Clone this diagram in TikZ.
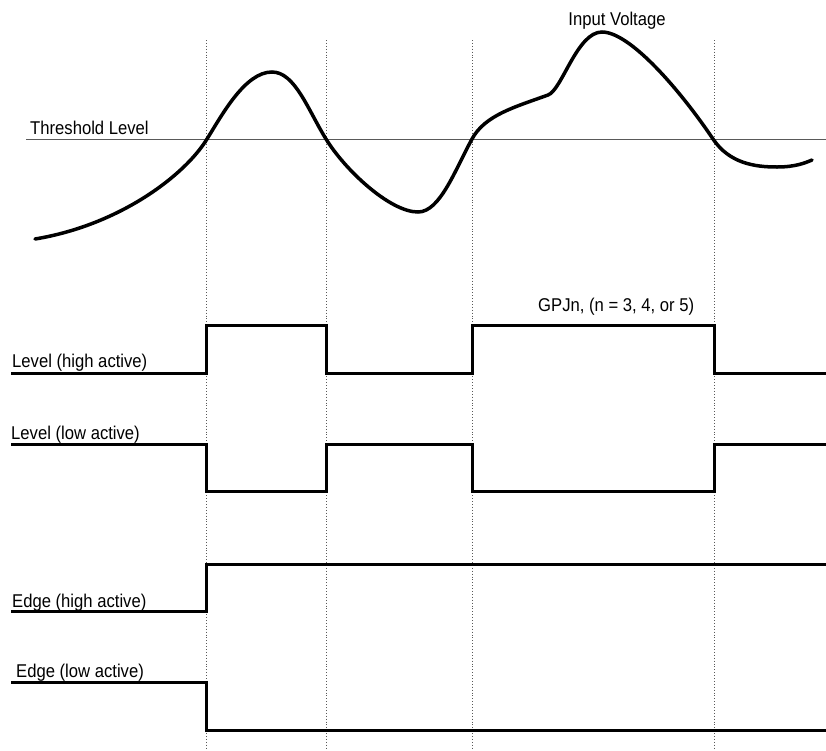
\documentclass[tikz,border=0pt]{standalone}
\usepackage{fontspec}
\setmainfont{Liberation Sans}[FakeStretch=0.9]
\begin{document}
\begin{tikzpicture}[x=1pt,y=-1pt,
  lbl/.style={anchor=base west,inner sep=0pt,font=\fontsize{18.5}{20}\selectfont},
  sig/.style={line width=3pt,line join=miter},
  guide/.style={gray!70!black,dotted,line width=0.9pt},
  thr/.style={black!65,line width=1.6pt}]
\useasboundingbox (0,0) rectangle (826,750);
% guides
\foreach \gx/\gn in {206/ga,326/gb,472/gc,714/gd}{
  \coordinate (\gn t) at (\gx,40);
  \coordinate (\gn b) at (\gx,750);
  \draw[guide] (\gn t) -- (\gn b);
}
% threshold
\coordinate (th1) at (26,139.5);
\coordinate (th2) at (826,139.5);
\draw[thr] (th1) -- (th2);
% input voltage
\draw[line width=3.5pt,line cap=round]
 (35,239) .. controls (120,225) and (185,175) .. (207,139)
 .. controls (222,115) and (245,72) .. (272,72)
 .. controls (295,72) and (308,110) .. (326,139)
 .. controls (345,170) and (390,212) .. (418,212)
 .. controls (440,212) and (455,170) .. (472,139)
 .. controls (485,115) and (515,107) .. (548,95)
 .. controls (562,90) and (577,32) .. (602,32)
 .. controls (630,32) and (680,90) .. (713,139)
 .. controls (729.5,163.5) and (755,167) .. (777,167)
 .. controls (795,167) and (805,163) .. (812,160);
% labels
\node[lbl] (tl) at (30,134) {Threshold Level};
\node[lbl,anchor=base] (iv) at (617,25) {Input Voltage};
\node[lbl] (gp) at (538,311) {GPJn, (n = 3, 4, or 5)};
\node[lbl] (l1) at (12,367) {Level (high active)};
\node[lbl] (l2) at (11,439) {Level (low active)};
\node[lbl] (l3) at (12,607) {Edge (high active)};
\node[lbl] (l4) at (16,677) {Edge (low active)};
% signals
\draw[sig] (11,373) -- (206,373) -- (206,325.5) -- (326,325.5) -- (326,373)
  -- (472,373) -- (472,325.5) -- (714,325.5) -- (714,373) -- (826,373);
\draw[sig] (11,444) -- (206,444) -- (206,491.5) -- (326,491.5) -- (326,444)
  -- (472,444) -- (472,491.5) -- (714,491.5) -- (714,444) -- (826,444);
\draw[sig] (11,611) -- (206,611) -- (206,564) -- (826,564);
\draw[sig] (11,682.5) -- (206,682.5) -- (206,730) -- (826,730);
\end{tikzpicture}
\end{document}
